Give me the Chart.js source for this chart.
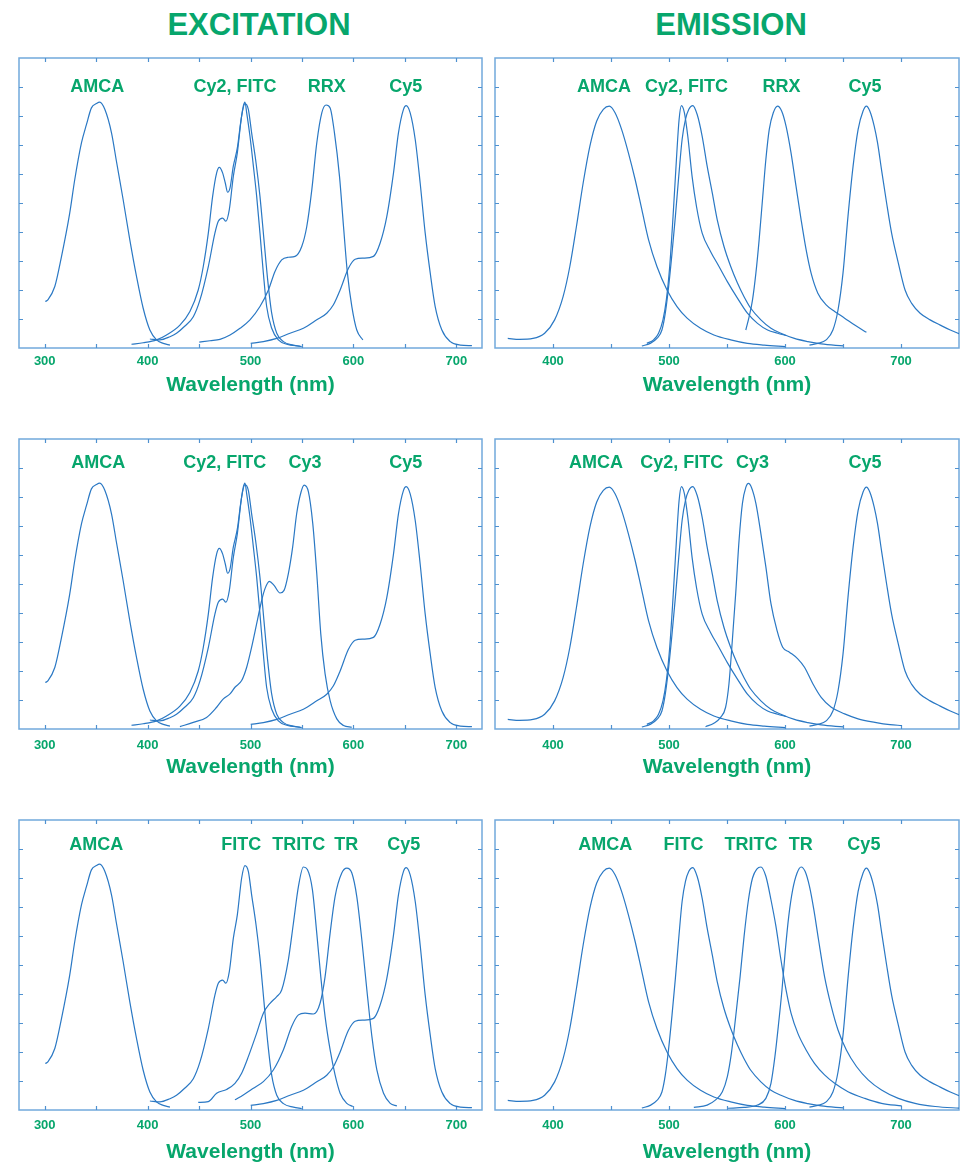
<!DOCTYPE html>
<html><head><meta charset="utf-8">
<script src="https://cdn.jsdelivr.net/npm/chart.js@4.4.0/dist/chart.umd.min.js"></script>
<style>
html,body{margin:0;padding:0;background:#fff;}
body{width:962px;height:1164px;position:relative;overflow:hidden;font-family:'Liberation Sans',Arial,sans-serif;}
.title{position:absolute;top:9px;font-weight:bold;font-size:31px;line-height:31px;color:#07a66c;transform:translateX(-50%);white-space:nowrap;}
canvas{position:absolute;}
</style></head><body>
<div class="title" style="left:259px">EXCITATION</div>
<div class="title" style="left:731px">EMISSION</div>
<script>
// ---------------- DATA (wavelength nm / relative intensity) ----------------
const exTicks = [300, 350, 400, 450, 500, 550, 600, 650, 700];
const emTicks = [400, 450, 500, 550, 600, 650, 700];
const yTicks = [10, 20, 30, 40, 50, 60, 70, 80, 90];

// Excitation spectra
const amcaExNm = [300.6, 303, 309.8, 316, 324.3, 329.2, 335.7, 340.6, 345.4, 350.3, 353.5, 358.4, 364.9, 369.7, 376.2, 382.7, 389.2, 395.7, 402.2, 408.7, 415.2, 421.7];
const amcaExI  = [16.0, 16.6, 21.2, 31.0, 46.5, 58.1, 70.7, 77.1, 82.8, 84.3, 84.8, 82.3, 74.2, 64.4, 51.2, 37.3, 24.7, 13.7, 6.2, 2.8, 1.6, 1.0];

const cy2ExNm = [384.3, 395.7, 408.7, 418.4, 431.4, 441.1, 449.2, 454.1, 459.0, 463.2, 467.1, 469.7, 472.9, 475.5, 477.8, 480.1, 483.3, 487.2, 490.4, 493.0, 494.6, 496.3, 499.5, 502.8, 506.0, 509.2, 512.5, 515.7, 520.6, 527.1, 535.2, 548.0];
const cy2ExI  = [1.3, 1.8, 2.8, 4.5, 7.9, 12.6, 20.0, 28.1, 39.6, 52.3, 60.4, 62.3, 60.4, 56.9, 53.7, 55.2, 62.7, 69.0, 77.6, 83.4, 84.8, 81.1, 73.0, 62.7, 52.3, 39.6, 25.8, 14.3, 6.8, 2.8, 1.3, 0.6];

const fitcExNm = [402.2, 411.9, 421.7, 428.1, 436.0, 444.4, 450.9, 459.0, 465.4, 468.7, 472.9, 476.1, 479.4, 483.3, 487.2, 491.4, 494.6, 497.9, 501.1, 505.4, 509.2, 513.1, 516.7, 520.6, 525.5, 532.0, 541.7, 549.8];
const fitcExI  = [3.1, 2.8, 3.9, 5.1, 7.5, 10.8, 16.6, 28.1, 39.6, 43.7, 44.8, 43.7, 47.7, 59.2, 67.3, 80.0, 84.3, 82.3, 74.2, 63.8, 52.3, 37.3, 23.5, 12.0, 5.1, 2.2, 1.0, 0.5];

const rrxExNm = [450.2, 460.6, 470.3, 480.1, 489.8, 499.5, 509.2, 517.4, 523.8, 530.3, 536.8, 543.3, 549.8, 554.7, 559.6, 564.4, 569.3, 573.5, 577.4, 581.6, 586.5, 590.4, 594.2, 598.5, 603.3, 609.2];
const rrxExI  = [2.0, 2.5, 3.0, 4.5, 6.8, 9.7, 14.3, 20.0, 26.4, 30.4, 31.3, 31.6, 35.0, 41.9, 54.6, 70.7, 81.1, 83.8, 82.8, 74.2, 59.2, 41.9, 25.8, 14.3, 6.2, 2.8];

const cy3ExNm = [431.4, 444.4, 457.3, 467.1, 473.6, 480.1, 484.9, 491.4, 496.3, 501.1, 506.0, 510.9, 514.1, 518.3, 522.9, 528.7, 532.6, 536.8, 541.0, 544.9, 549.2, 552.1, 556.3, 560.5, 564.4, 568.3, 572.5, 577.4, 583.9, 590.4, 598.5];
const cy3ExI  = [0.8, 2.3, 4.0, 7.5, 10.4, 12.1, 14.4, 16.7, 21.3, 28.2, 36.3, 44.4, 48.4, 50.9, 49.5, 46.9, 47.8, 53.6, 62.8, 74.3, 81.8, 84.1, 81.8, 70.9, 53.6, 32.8, 19.0, 9.8, 3.5, 1.2, 0.6];

const tritcExNm = [449.2, 459.0, 467.1, 476.8, 484.9, 491.4, 497.9, 506.0, 512.5, 519.0, 525.5, 530.3, 536.8, 541.7, 546.6, 551.4, 555.3, 560.2, 564.4, 568.3, 572.5, 577.4, 582.2, 587.1, 593.6, 599.4];
const tritcExI  = [2.6, 2.9, 5.8, 7.1, 9.2, 12.7, 18.4, 26.5, 33.4, 36.8, 39.1, 41.4, 51.8, 64.4, 77.1, 83.8, 82.9, 75.9, 61.0, 46.0, 32.2, 20.7, 12.1, 5.8, 2.3, 1.2];

const trExNm = [484.9, 493.0, 502.8, 512.5, 522.2, 531.9, 540.0, 546.6, 553.0, 561.1, 567.6, 572.5, 577.4, 582.2, 588.7, 593.6, 598.5, 603.3, 608.2, 613.1, 618.0, 622.8, 629.3, 635.8, 642.3];
const trExI  = [3.5, 5.2, 7.5, 9.8, 13.8, 20.7, 28.8, 32.8, 33.4, 33.1, 36.8, 46.0, 61.0, 73.6, 81.7, 83.4, 81.7, 73.6, 58.7, 41.4, 25.3, 13.8, 5.8, 2.3, 1.4];

const cy5ExNm = [500.2, 512.5, 525.5, 538.4, 551.4, 564.4, 574.1, 580.6, 587.1, 595.2, 601.7, 609.8, 619.5, 626.0, 632.5, 639.0, 643.8, 648.7, 651.3, 655.2, 660.1, 664.9, 669.8, 674.7, 679.5, 686.0, 694.2, 703.9, 715.2];
const cy5ExI  = [1.6, 2.2, 3.3, 5.1, 6.8, 9.7, 12.0, 14.9, 20.0, 27.5, 30.6, 31.0, 31.6, 36.2, 45.4, 60.4, 74.2, 82.3, 83.6, 81.1, 71.9, 56.9, 39.6, 25.8, 14.3, 6.2, 2.2, 1.0, 0.8];

// Emission spectra
const amcaEmNm = [361.0, 371.1, 382.7, 392.8, 401.4, 408.7, 414.5, 420.2, 426.0, 431.8, 437.6, 443.4, 448.6, 453.5, 459.2, 465.0, 470.8, 476.6, 482.4, 489.6, 498.3, 506.9, 515.6, 527.2, 538.7, 553.2, 567.6, 582.1, 600.0];
const amcaEmI  = [3.3, 3.0, 3.3, 5.1, 9.7, 17.7, 28.1, 41.9, 56.9, 69.6, 78.2, 82.3, 83.4, 81.1, 75.3, 67.3, 58.1, 47.7, 37.3, 28.1, 20.0, 14.3, 10.3, 6.8, 4.5, 2.8, 1.6, 1.0, 0.5];

const cy2EmNm = [480.9, 486.7, 491.0, 494.8, 497.7, 500.6, 503.5, 506.4, 508.7, 510.7, 513.3, 516.2, 519.9, 523.7, 528.6, 535.8, 543.1, 550.3, 559.0, 567.6, 576.3, 585.0, 593.6, 600.9];
const cy2EmI  = [1.6, 2.8, 5.1, 9.7, 16.6, 28.1, 45.4, 65.0, 78.8, 83.6, 81.1, 73.0, 59.2, 48.8, 39.6, 33.3, 28.1, 22.9, 17.2, 12.0, 8.5, 6.2, 5.1, 4.3];

const fitcEmNm = [476.6, 483.8, 489.6, 493.9, 496.8, 499.7, 502.6, 505.5, 508.4, 511.3, 514.2, 517.1, 520.5, 524.3, 528.6, 532.9, 537.3, 541.6, 547.4, 553.2, 559.0, 564.7, 570.5, 579.2, 587.9, 596.5, 608.1, 619.7, 631.2, 650.0];
const fitcEmI  = [0.7, 1.6, 3.3, 6.2, 12.0, 21.2, 32.7, 45.4, 59.2, 71.9, 78.8, 82.3, 83.6, 80.5, 73.0, 62.7, 53.5, 44.2, 35.0, 28.1, 22.4, 17.7, 13.7, 9.7, 6.8, 5.1, 3.3, 2.2, 1.4, 0.7];

const rrxEmNm = [566.2, 569.1, 572.0, 574.9, 577.7, 580.6, 583.5, 586.4, 589.9, 593.6, 597.1, 600.9, 605.2, 609.5, 613.9, 618.2, 622.5, 628.3, 635.5, 642.8, 651.4, 660.1, 670.2];
const rrxEmI  = [6.2, 10.8, 16.6, 25.8, 37.3, 51.2, 65.0, 75.3, 81.1, 83.4, 81.7, 76.5, 67.3, 55.8, 44.2, 33.9, 25.8, 18.9, 14.9, 12.6, 10.3, 7.9, 5.4];

const cy3EmNm = [531.5, 538.7, 544.5, 548.8, 551.7, 554.6, 557.5, 560.4, 563.3, 566.2, 568.5, 571.1, 574.9, 579.2, 583.5, 587.9, 593.1, 598.0, 603.8, 611.0, 616.8, 624.0, 631.2, 639.9, 651.4, 663.0, 677.5, 690.5, 700.6];
const cy3EmI  = [0.8, 2.0, 4.0, 7.5, 15.6, 30.5, 46.7, 65.1, 77.8, 83.3, 84.7, 83.3, 77.8, 67.4, 55.9, 43.2, 34.0, 28.2, 26.5, 24.2, 21.3, 15.6, 10.9, 7.5, 5.2, 3.5, 2.3, 1.5, 1.2];

const tritcEmNm = [521.4, 532.9, 540.2, 546.0, 550.3, 553.8, 557.5, 561.3, 564.7, 568.5, 572.0, 575.7, 579.2, 583.5, 587.9, 592.2, 596.5, 600.9, 605.2, 611.0, 618.2, 625.4, 634.1, 642.8, 654.3, 668.8, 683.2, 700.6];
const tritcEmI  = [0.9, 1.7, 3.5, 6.3, 11.5, 19.6, 32.2, 46.0, 59.8, 72.5, 80.0, 83.1, 83.8, 80.6, 72.5, 63.3, 51.8, 41.4, 33.4, 26.5, 20.7, 16.1, 12.1, 9.2, 6.3, 4.0, 2.3, 1.4];

const trEmNm = [550.9, 564.7, 576.3, 583.5, 587.9, 591.3, 594.5, 597.4, 600.3, 603.2, 606.6, 610.4, 613.9, 617.3, 621.1, 624.9, 628.9, 634.1, 639.9, 645.7, 652.9, 661.6, 671.7, 683.2, 697.7, 712.1, 729.5, 751.7];
const trEmI  = [0.6, 0.9, 1.7, 4.0, 9.2, 18.4, 29.9, 41.4, 55.2, 66.7, 75.9, 81.7, 83.8, 82.3, 77.1, 69.0, 58.7, 46.0, 35.7, 27.6, 20.7, 15.0, 10.4, 6.9, 4.0, 2.3, 1.2, 0.6];

const cy5EmNm = [621.1, 628.3, 635.5, 641.3, 645.7, 650.0, 654.3, 658.7, 663.0, 667.3, 670.2, 673.1, 676.9, 679.8, 683.2, 687.6, 691.9, 697.7, 703.5, 709.2, 716.5, 725.1, 733.8, 742.5, 751.7];
const cy5EmI  = [1.0, 1.6, 2.8, 6.2, 13.1, 25.8, 45.4, 62.7, 75.3, 81.7, 83.4, 81.7, 76.5, 70.7, 61.5, 50.0, 39.6, 29.3, 20.0, 15.4, 12.0, 9.7, 7.9, 6.2, 4.7];

const spectra = {
  amcaEx: [amcaExNm, amcaExI], cy2Ex: [cy2ExNm, cy2ExI], fitcEx: [fitcExNm, fitcExI],
  rrxEx: [rrxExNm, rrxExI], cy3Ex: [cy3ExNm, cy3ExI], tritcEx: [tritcExNm, tritcExI],
  trEx: [trExNm, trExI], cy5Ex: [cy5ExNm, cy5ExI],
  amcaEm: [amcaEmNm, amcaEmI], cy2Em: [cy2EmNm, cy2EmI], fitcEm: [fitcEmNm, fitcEmI],
  rrxEm: [rrxEmNm, rrxEmI], cy3Em: [cy3EmNm, cy3EmI], tritcEm: [tritcEmNm, tritcEmI],
  trEm: [trEmNm, trEmI], cy5Em: [cy5EmNm, cy5EmI]
};

// ---------------- PANELS ----------------
const panels = [
  {row:0, col:0, kind:'ex', series:['amcaEx','cy2Ex','fitcEx','rrxEx','cy5Ex'],
   labels:[['AMCA',351],['Cy2, FITC',485],['RRX',574],['Cy5',651]], labelY:90},
  {row:0, col:1, kind:'em', series:['amcaEm','cy2Em','fitcEm','rrxEm','cy5Em'],
   labels:[['AMCA',444],['Cy2, FITC',515],['RRX',597],['Cy5',669]], labelY:90},
  {row:1, col:0, kind:'ex', series:['amcaEx','cy2Ex','fitcEx','cy3Ex','cy5Ex'],
   labels:[['AMCA',352],['Cy2, FITC',475],['Cy3',553],['Cy5',651]], labelY:91.8},
  {row:1, col:1, kind:'em', series:['amcaEm','cy2Em','fitcEm','cy3Em','cy5Em'],
   labels:[['AMCA',437],['Cy2, FITC',511],['Cy3',572],['Cy5',669]], labelY:91.8},
  {row:2, col:0, kind:'ex', series:['amcaEx','fitcEx','tritcEx','trEx','cy5Ex'],
   labels:[['AMCA',350],['FITC',491],['TRITC',547],['TR',593],['Cy5',649]], labelY:91.5},
  {row:2, col:1, kind:'em', series:['amcaEm','fitcEm','tritcEm','trEm','cy5Em'],
   labels:[['AMCA',445],['FITC',512.5],['TRITC',570.6],['TR',613.5],['Cy5',668]], labelY:91.5}
];

const GREEN = '#07a66c', LINE = '#2a78c4', FRAME = '#72a9dc', TICKC = '#4f91d0';
const FONT = "'Liberation Sans', Arial, Helvetica, sans-serif";
const rowTop = [58, 439, 820];
const tickGap = [13.5, 16.5, 15];
const titleGap = [37, 38, 42.5];
const BOXH = 290;

function makeChart(p) {
  const cv = document.createElement('canvas');
  const left = p.col === 0 ? 0 : 487;
  const width = p.col === 0 ? 490 : 475;
  const padL = p.col === 0 ? 19 : 8;
  const padR = p.col === 0 ? 8 : 3;
  const top = rowTop[p.row] - 18;
  const height = 18 + BOXH + 60;
  cv.width = width; cv.height = height;
  cv.style.left = left + 'px'; cv.style.top = top + 'px';
  cv.style.width = width + 'px'; cv.style.height = height + 'px';
  document.body.appendChild(cv);
  const axisH = titleGap[p.row] + 12.6;
  const xt = p.kind === 'ex' ? exTicks : emTicks;
  const xmin = p.kind === 'ex' ? 275 : 350;
  const xmax = p.kind === 'ex' ? 725 : 750;

  const deco = {
    id: 'deco' + p.row + p.col,
    beforeDatasetsDraw(chart) {
      const {ctx, chartArea: a, scales: {x, y}} = chart;
      ctx.save();
      ctx.strokeStyle = FRAME; ctx.lineWidth = 1.5;
      ctx.strokeRect(a.left, a.top, a.right - a.left, a.bottom - a.top);
      ctx.beginPath();
      xt.forEach(v => {
        const px = Math.round(x.getPixelForValue(v)) + 0.5;
        ctx.moveTo(px, a.top); ctx.lineTo(px, a.top + 4);
        ctx.moveTo(px, a.bottom); ctx.lineTo(px, a.bottom - 4);
      });
      yTicks.forEach(v => {
        const py = Math.round(y.getPixelForValue(v)) + 0.5;
        ctx.moveTo(a.left, py); ctx.lineTo(a.left + 4, py);
        ctx.moveTo(a.right, py); ctx.lineTo(a.right - 4, py);
      });
      ctx.strokeStyle = TICKC; ctx.lineWidth = 1.2; ctx.stroke();
      ctx.restore();
    },
    afterDatasetsDraw(chart) {
      const {ctx, scales: {x, y}} = chart;
      ctx.save();
      ctx.fillStyle = GREEN;
      ctx.font = 'bold 18px ' + FONT;
      ctx.textAlign = 'center'; ctx.textBaseline = 'middle';
      p.labels.forEach(([t, wl]) => ctx.fillText(t, x.getPixelForValue(wl), y.getPixelForValue(p.labelY)));
      ctx.restore();
    }
  };

  new Chart(cv, {
    type: 'line',
    data: {
      datasets: p.series.map(k => ({
        data: spectra[k][0].map((nm, i) => ({x: nm, y: spectra[k][1][i]})),
        borderColor: LINE, borderWidth: 1.2, pointRadius: 0, fill: false,
        cubicInterpolationMode: 'monotone'
      }))
    },
    options: {
      responsive: false, animation: false, devicePixelRatio: 1,
      layout: {autoPadding: false, padding: {left: padL, right: padR, top: 18, bottom: 60 - axisH}},
      plugins: {legend: {display: false}, tooltip: {enabled: false}},
      scales: {
        x: {
          type: 'linear', position: 'bottom', min: xmin, max: xmax,
          grid: {display: false, drawTicks: false}, border: {display: false},
          afterBuildTicks: s => { s.ticks = xt.map(v => ({value: v})); },
          afterFit: s => { s.height = axisH; },
          ticks: {
            padding: tickGap[p.row] - 7.8, color: GREEN, autoSkip: false, maxRotation: 0,
            font: {family: FONT, size: 13, weight: 'bold'},
            callback: v => (v % 100 === 0 ? String(v) : '')
          },
          title: {display: true, text: 'Wavelength (nm)', color: GREEN, padding: 0,
                  font: {family: FONT, size: 21, weight: 'bold'}}
        },
        y: {type: 'linear', display: false, min: 0, max: 100}
      }
    },
    plugins: [deco]
  });
}
panels.forEach(makeChart);
</script>
</body></html>
